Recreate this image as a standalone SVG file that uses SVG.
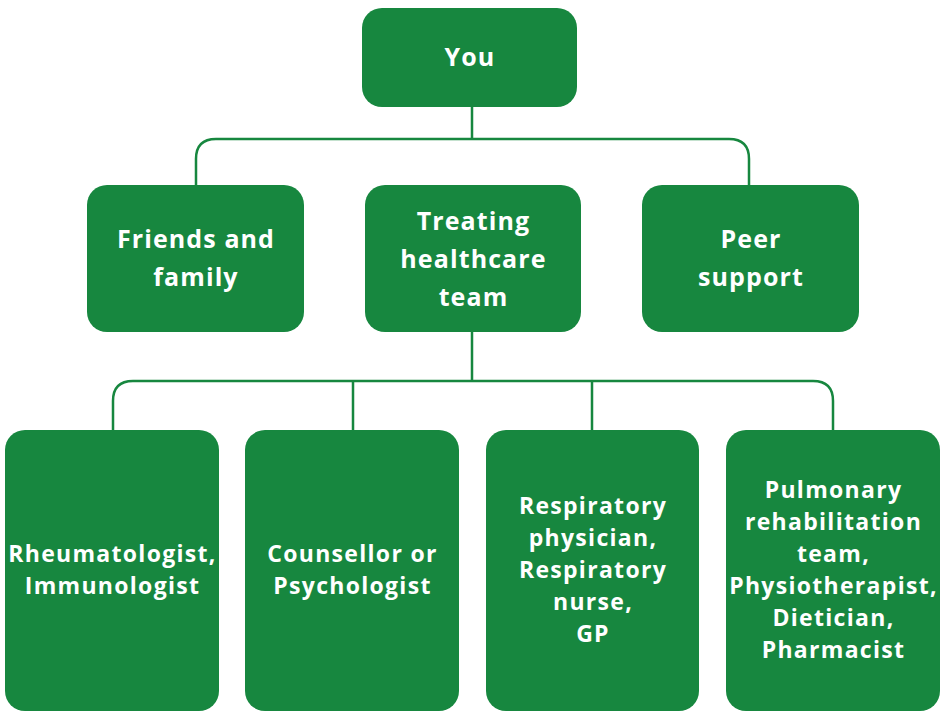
<svg xmlns="http://www.w3.org/2000/svg" width="944" height="712" viewBox="0 0 944 712">
<style>
.box{fill:#17873f}
.c{fill:none;stroke:#17873f;stroke-width:2.5}
text{font-family:"Open Sans","Liberation Sans",sans-serif;font-weight:700;fill:#fff;text-anchor:middle}
.t1{font-size:25px;letter-spacing:1.1px}
.t2{font-size:23px;letter-spacing:1.3px}
</style>
<rect width="944" height="712" fill="#fff"/>
<g id="connectors">
<path class="c" d="M472 107V139M196 185V159Q196 139 216 139H729Q749 139 749 159V185"/>
<path class="c" d="M472 332V381M113 430V401Q113 381 133 381H813Q833 381 833 401V430M353 381V430M592 381V430"/>
</g>
<g id="you"><rect class="box" x="362" y="8" width="215" height="99" rx="20"/><text class="t1" x="470" y="66">You</text></g>
<g id="friends"><rect class="box" x="87" y="185" width="217" height="147" rx="20"/><text class="t1" x="196" y="248">Friends and</text><text class="t1" x="196" y="286">family</text></g>
<g id="treating"><rect class="box" x="365" y="185" width="216" height="147" rx="20"/><text class="t1" x="473.5" y="230">Treating</text><text class="t1" x="473.5" y="268">healthcare</text><text class="t1" x="473.5" y="306">team</text></g>
<g id="peer"><rect class="box" x="642" y="185" width="217" height="147" rx="20"/><text class="t1" x="751" y="248">Peer</text><text class="t1" x="751" y="286">support</text></g>
<g id="rheum"><rect class="box" x="5" y="430" width="214" height="281" rx="20"/><text class="t2" x="112.5" y="562">Rheumatologist,</text><text class="t2" x="112.5" y="594">Immunologist</text></g>
<g id="couns"><rect class="box" x="245" y="430" width="214" height="281" rx="20"/><text class="t2" x="352.5" y="562">Counsellor or</text><text class="t2" x="352.5" y="594">Psychologist</text></g>
<g id="resp"><rect class="box" x="486" y="430" width="213" height="281" rx="20"/><text class="t2" x="593" y="514">Respiratory</text><text class="t2" x="593" y="546">physician,</text><text class="t2" x="593" y="578">Respiratory</text><text class="t2" x="593" y="610">nurse,</text><text class="t2" x="593" y="642">GP</text></g>
<g id="pulm"><rect class="box" x="726" y="430" width="214" height="281" rx="20"/><text class="t2" x="833.5" y="498">Pulmonary</text><text class="t2" x="833.5" y="530">rehabilitation</text><text class="t2" x="833.5" y="562">team,</text><text class="t2" x="833.5" y="594">Physiotherapist,</text><text class="t2" x="833.5" y="626">Dietician,</text><text class="t2" x="833.5" y="658">Pharmacist</text></g>
</svg>
